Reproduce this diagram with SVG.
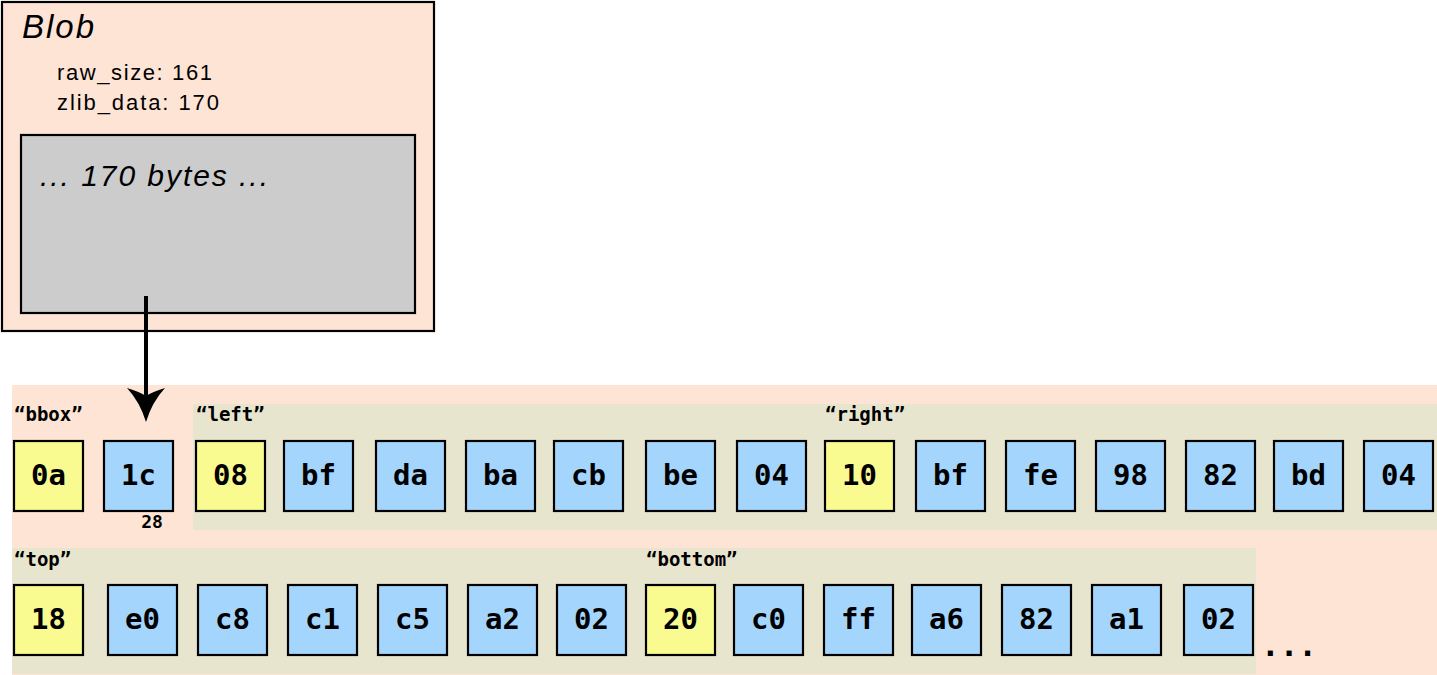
<svg xmlns="http://www.w3.org/2000/svg" width="1437" height="675" viewBox="0 0 1437 675">
<defs>
<style>
.peach{fill:#fee4d5}
.beige{fill:#e8e5cf}
.b{stroke:#000;stroke-width:2.2}
.y{fill:#f9fa90}
.u{fill:#a3d5fd}
.hx{font-family:"DejaVu Sans Mono","Liberation Mono",monospace;font-weight:bold;font-size:29px;text-anchor:middle;fill:#000}
.lb{font-family:"DejaVu Sans Mono","Liberation Mono",monospace;font-weight:bold;font-size:19px;fill:#000}
.sans{font-family:"Liberation Sans",Arial,sans-serif;fill:#000}
</style>
</defs>
<rect width="1437" height="675" fill="#fff"/>
<g id="blob">
<rect x="2" y="2" width="432" height="329" class="peach b"/>
<text x="22" y="38" class="sans" font-size="33" font-style="italic" textLength="72">Blob</text>
<text x="57" y="80" class="sans" font-size="22" textLength="155">raw_size: 161</text>
<text x="57" y="110" class="sans" font-size="22" textLength="162">zlib_data: 170</text>
<rect x="21" y="135" width="394" height="178" fill="#cccccc" class="b"/>
<text x="40" y="186" class="sans" font-size="30" font-style="italic" textLength="228">... 170 bytes ...</text>
</g>
<g id="stream">
<rect x="12" y="385" width="1425" height="290" class="peach"/>
<rect x="193" y="404" width="1244" height="126" class="beige"/>
<rect x="12" y="548" width="1244" height="126" class="beige"/>
<text x="14" y="421" class="lb">“bbox”</text>
<text x="196" y="421" class="lb">“left”</text>
<text x="825" y="421" class="lb">“right”</text>
<text x="14" y="566" class="lb">“top”</text>
<text x="646" y="566" class="lb">“bottom”</text>
<text x="152" y="528" class="lb" style="font-size:18px" text-anchor="middle">28</text>
<text x="1261" y="656" class="lb" style="font-size:31px">...</text>
</g>
<g id="row1">
<g id="b0a"><rect x="14" y="441" width="69" height="70" class="y b"/><text x="48.5" y="485" class="hx">0a</text></g>
<g id="b1c"><rect x="104" y="441" width="69" height="70" class="u b"/><text x="138.5" y="485" class="hx">1c</text></g>
<g id="b08"><rect x="196" y="441" width="69" height="70" class="y b"/><text x="230.5" y="485" class="hx">08</text></g>
<g id="bbf"><rect x="284" y="441" width="69" height="70" class="u b"/><text x="318.5" y="485" class="hx">bf</text></g>
<g id="bda"><rect x="376" y="441" width="69" height="70" class="u b"/><text x="410.5" y="485" class="hx">da</text></g>
<g id="bba"><rect x="466" y="441" width="69" height="70" class="u b"/><text x="500.5" y="485" class="hx">ba</text></g>
<g id="bcb"><rect x="554" y="441" width="69" height="70" class="u b"/><text x="588.5" y="485" class="hx">cb</text></g>
<g id="bbe"><rect x="646" y="441" width="69" height="70" class="u b"/><text x="680.5" y="485" class="hx">be</text></g>
<g id="b04a"><rect x="737" y="441" width="69" height="70" class="u b"/><text x="771.5" y="485" class="hx">04</text></g>
<g id="b10"><rect x="825" y="441" width="69" height="70" class="y b"/><text x="859.5" y="485" class="hx">10</text></g>
<g id="bbf2"><rect x="916" y="441" width="69" height="70" class="u b"/><text x="950.5" y="485" class="hx">bf</text></g>
<g id="bfe"><rect x="1006" y="441" width="69" height="70" class="u b"/><text x="1040.5" y="485" class="hx">fe</text></g>
<g id="b98"><rect x="1096" y="441" width="69" height="70" class="u b"/><text x="1130.5" y="485" class="hx">98</text></g>
<g id="b82"><rect x="1186" y="441" width="69" height="70" class="u b"/><text x="1220.5" y="485" class="hx">82</text></g>
<g id="bbd"><rect x="1274" y="441" width="69" height="70" class="u b"/><text x="1308.5" y="485" class="hx">bd</text></g>
<g id="b04b"><rect x="1364" y="441" width="69" height="70" class="u b"/><text x="1398.5" y="485" class="hx">04</text></g>
</g>
<g id="row2">
<g id="b18"><rect x="14" y="585" width="69" height="70" class="y b"/><text x="48.5" y="629" class="hx">18</text></g>
<g id="be0"><rect x="108" y="585" width="69" height="70" class="u b"/><text x="142.5" y="629" class="hx">e0</text></g>
<g id="bc8"><rect x="198" y="585" width="69" height="70" class="u b"/><text x="232.5" y="629" class="hx">c8</text></g>
<g id="bc1"><rect x="288" y="585" width="69" height="70" class="u b"/><text x="322.5" y="629" class="hx">c1</text></g>
<g id="bc5"><rect x="378" y="585" width="69" height="70" class="u b"/><text x="412.5" y="629" class="hx">c5</text></g>
<g id="ba2"><rect x="468" y="585" width="69" height="70" class="u b"/><text x="502.5" y="629" class="hx">a2</text></g>
<g id="b02a"><rect x="557" y="585" width="69" height="70" class="u b"/><text x="591.5" y="629" class="hx">02</text></g>
<g id="b20"><rect x="646" y="585" width="69" height="70" class="y b"/><text x="680.5" y="629" class="hx">20</text></g>
<g id="bc0"><rect x="734" y="585" width="69" height="70" class="u b"/><text x="768.5" y="629" class="hx">c0</text></g>
<g id="bff"><rect x="824" y="585" width="69" height="70" class="u b"/><text x="858.5" y="629" class="hx">ff</text></g>
<g id="ba6"><rect x="912" y="585" width="69" height="70" class="u b"/><text x="946.5" y="629" class="hx">a6</text></g>
<g id="b82b"><rect x="1002" y="585" width="69" height="70" class="u b"/><text x="1036.5" y="629" class="hx">82</text></g>
<g id="ba1"><rect x="1092" y="585" width="69" height="70" class="u b"/><text x="1126.5" y="629" class="hx">a1</text></g>
<g id="b02b"><rect x="1184" y="585" width="69" height="70" class="u b"/><text x="1218.5" y="629" class="hx">02</text></g>
</g>
<g id="connectors">
<line x1="146" y1="296" x2="146" y2="400" stroke="#000" stroke-width="4"/>
<path d="M146,422 Q140,402 127,388 Q140,392 146,396 Q152,392 165,388 Q152,402 146,422 Z" fill="#000"/>
</g>
</svg>
